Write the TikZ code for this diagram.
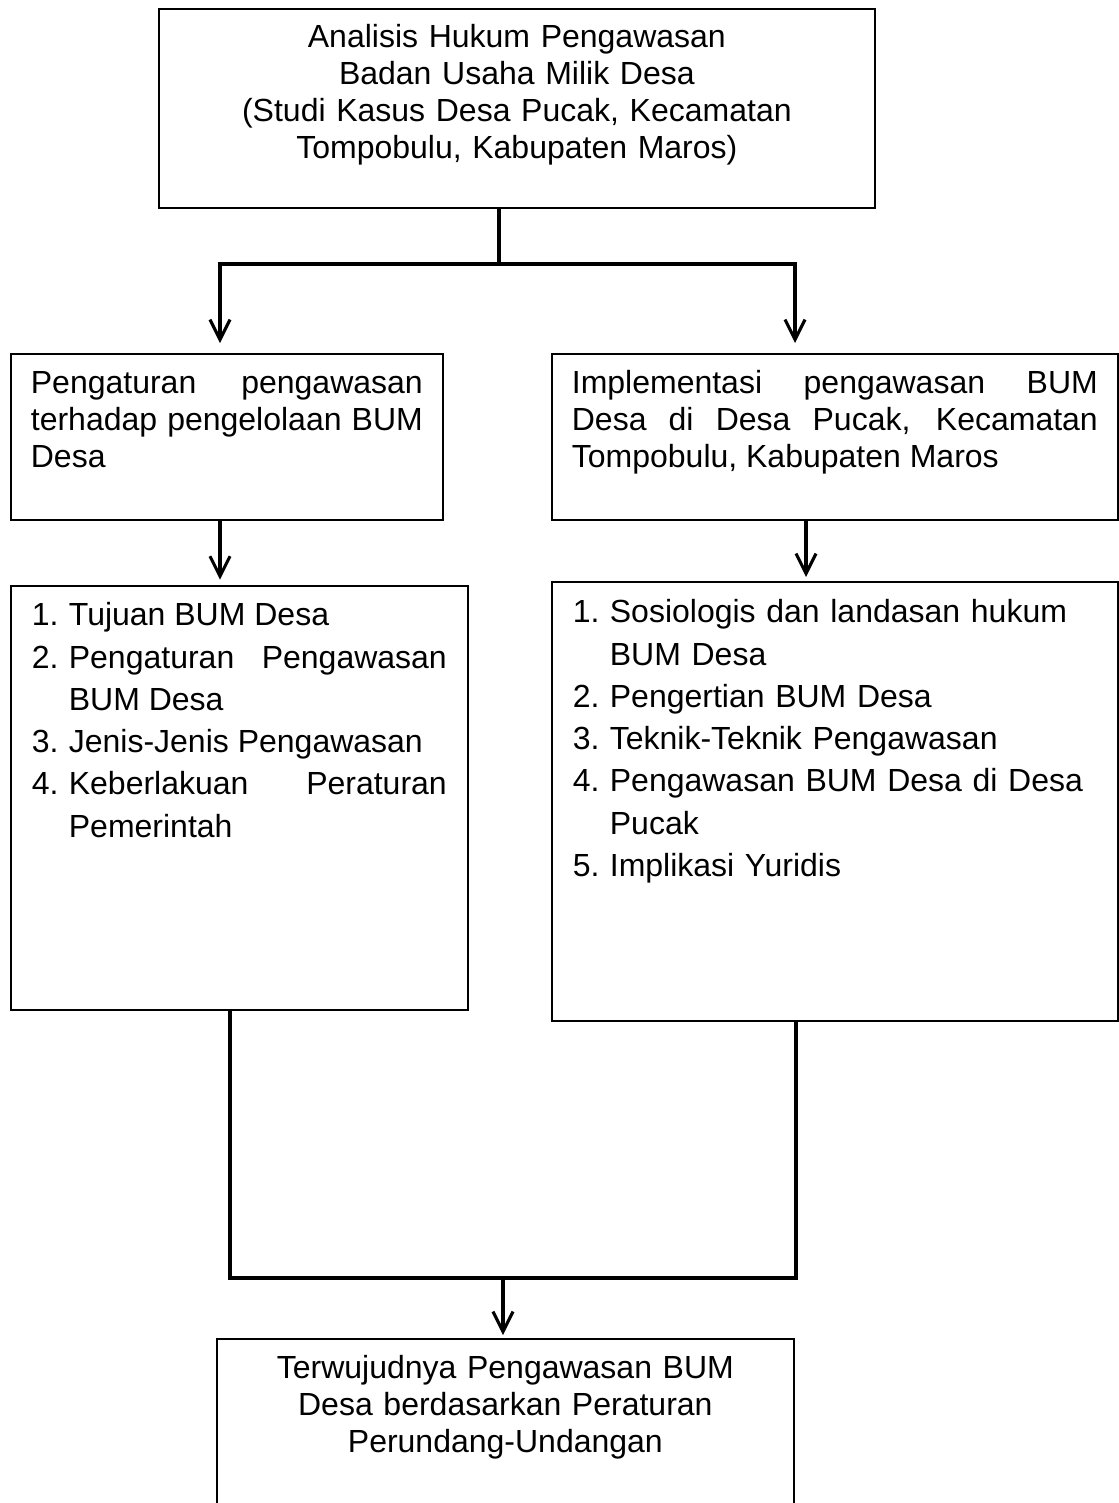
\documentclass[tikz,border=0pt]{standalone}
\usepackage{fontspec}
\setmainfont{Liberation Sans}
\usetikzlibrary{arrows.meta}

\newcommand{\numitem}[2]{\hangindent=27.75pt\hangafter=1\makebox[27.75pt][l]{#1}#2\par}

\begin{document}
\begin{tikzpicture}[x=0.75pt, y=-0.75pt,
	box/.style={draw, line width=1.3pt, rectangle, anchor=north west, inner ysep=0pt, inner xsep=15pt, text height=30pt, align=justify,
		font={\fontsize{24}{27.75}\selectfont\tolerance=10000\hyphenpenalty=10000}},
	listbox/.style={box, inner xsep=15.75pt,
		font={\fontsize{24}{31.7}\selectfont\tolerance=10000\hyphenpenalty=10000}},
	link/.style={line width=2.5pt},
	arrow/.style={line width=2.5pt, -{Straight Barb[length=15pt, width=15pt, line width=2.3pt]}}]
	\useasboundingbox (0,0) rectangle (1119,1503);
	\clip (0,0) rectangle (1119,1503);

	\node[box, align=center, text width=507pt, text height=29.25pt, text depth=120pt] (top) at (158,8) {Analisis Hukum Pengawasan\\Badan Usaha Milik Desa\\(Studi Kasus Desa Pucak, Kecamatan\\Tompobulu, Kabupaten Maros)};
	\node[box, text width=294pt, text depth=94.5pt] (left1) at (10,353) {Pengaturan pengawasan\linebreak terhadap pengelolaan BUM\linebreak Desa};
	\node[box, text width=394.5pt, text depth=94.5pt] (right1) at (551,353) {Implementasi pengawasan BUM\linebreak Desa di Desa Pucak, Kecamatan\linebreak Tompobulu, Kabupaten Maros};
	\node[listbox, text width=311.25pt, text depth=288pt] (left2) at (10,585) {%
		\numitem{1.}{Tujuan BUM Desa}%
		\numitem{2.}{Pengaturan Pengawasan\linebreak BUM Desa}%
		\numitem{3.}{Jenis-Jenis Pengawasan}%
		\numitem{4.}{Keberlakuan Peraturan\linebreak Pemerintah}};
	\node[listbox, align=left, text width=393pt, text height=30.75pt, text depth=298.5pt] (right2) at (551,581) {%
		\numitem{1.}{Sosiologis dan landasan hukum\newline BUM Desa}%
		\numitem{2.}{Pengertian BUM Desa}%
		\numitem{3.}{Teknik-Teknik Pengawasan}%
		\numitem{4.}{Pengawasan BUM Desa di Desa\newline Pucak}%
		\numitem{5.}{Implikasi Yuridis}};
	\node[box, align=center, text width=402.75pt, text depth=106.5pt] (bottom) at (216,1338) {Terwujudnya Pengawasan BUM\\Desa berdasarkan Peraturan\\Perundang-Undangan};

	\coordinate (fork) at (499,264);
	\coordinate (forkL) at (220,264);
	\coordinate (forkR) at (795,264);
	\coordinate (stepR) at (806,550);
	\coordinate (joinL) at (230,1278);
	\coordinate (joinR) at (796,1278);
	\coordinate (join) at (503,1278);

	% title to both branches
	\draw[link] (top.south -| fork) -- (fork);
	\draw[arrow, shorten >=7.5pt] (fork) -- (forkL) -- (forkL |- left1.north);
	\draw[arrow, shorten >=7.5pt] (fork) -- (forkR) -- (forkR |- right1.north);
	% left column
	\draw[arrow, shorten >=4pt] (left1.south -| forkL) -- (left2.north -| forkL);
	% right column
	\draw[arrow, shorten >=3pt] (right1.south -| stepR) -- (right2.north -| stepR);
	% both columns to the result
	\draw[link] (left2.south -| joinL) -- (joinL) -- (joinR) -- (right2.south -| joinR);
	\draw[arrow, shorten >=2.25pt] (join) -- (bottom.north -| join);
\end{tikzpicture}
\end{document}
